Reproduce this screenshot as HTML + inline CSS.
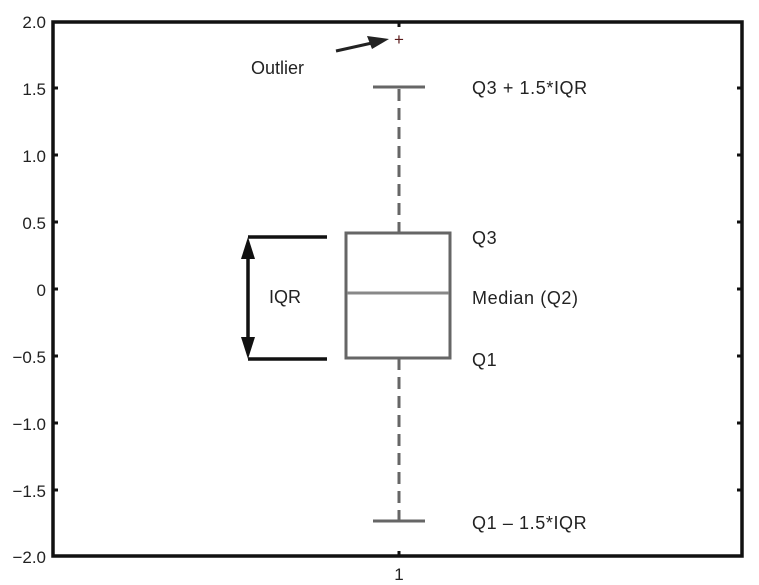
<!DOCTYPE html>
<html><head><style>body{margin:0;background:#fff}svg{display:block}text{font-family:"Liberation Sans",sans-serif;fill:#222}</style></head><body>
<svg width="759" height="585" viewBox="0 0 759 585">
<g font-size="17" text-anchor="end">
<text x="46" y="28">2.0</text><text x="46" y="95">1.5</text><text x="46" y="162">1.0</text><text x="46" y="229">0.5</text><text x="46" y="296">0</text><text x="46" y="363">−0.5</text><text x="46" y="430">−1.0</text><text x="46" y="497">−1.5</text><text x="46" y="563">−2.0</text>
</g>
<rect x="53" y="22" width="689" height="534" fill="none" stroke="#111" stroke-width="3.5"/>
<g stroke="#111" stroke-width="3">
<path d="M53 88h5M53 155h5M53 222h5M53 289h5M53 356h5M53 423h5M53 490h5"/>
<path d="M742 88h-5M742 155h-5M742 222h-5M742 289h-5M742 356h-5M742 423h-5M742 490h-5"/>
<path d="M399 22v5M399 556v-5"/>
</g>
<text x="399" y="580" font-size="17" text-anchor="middle">1</text>
<g stroke="#666" stroke-width="3" fill="none">
<path d="M399 89V233M399 358V521" stroke-dasharray="12 7"/>
<path d="M373 87h52M373 521h52"/>
<rect x="346" y="233" width="104" height="125"/>
</g>
<path d="M347 293h102" stroke="#888" stroke-width="3"/>
<text x="399" y="45" font-size="17" text-anchor="middle" style="fill:#5a1a1a">+</text>
<path d="M336 51L372 43" stroke="#222" stroke-width="3"/>
<polygon points="389,39 367,36 372,49" fill="#222"/>
<text x="251" y="74" font-size="18">Outlier</text>
<g stroke="#111" stroke-width="3.5">
<path d="M248 237h79M248 359h79M248 256v84"/>
</g>
<polygon points="248,237 241,259 255,259" fill="#111"/>
<polygon points="248,359 241,337 255,337" fill="#111"/>
<text x="269" y="303" font-size="18">IQR</text>
<g font-size="18" letter-spacing="0.6">
<text x="472" y="94">Q3 + 1.5*IQR</text>
<text x="472" y="244">Q3</text>
<text x="472" y="304">Median (Q2)</text>
<text x="472" y="366">Q1</text>
<text x="472" y="529">Q1 – 1.5*IQR</text>
</g>
</svg>
</body></html>
